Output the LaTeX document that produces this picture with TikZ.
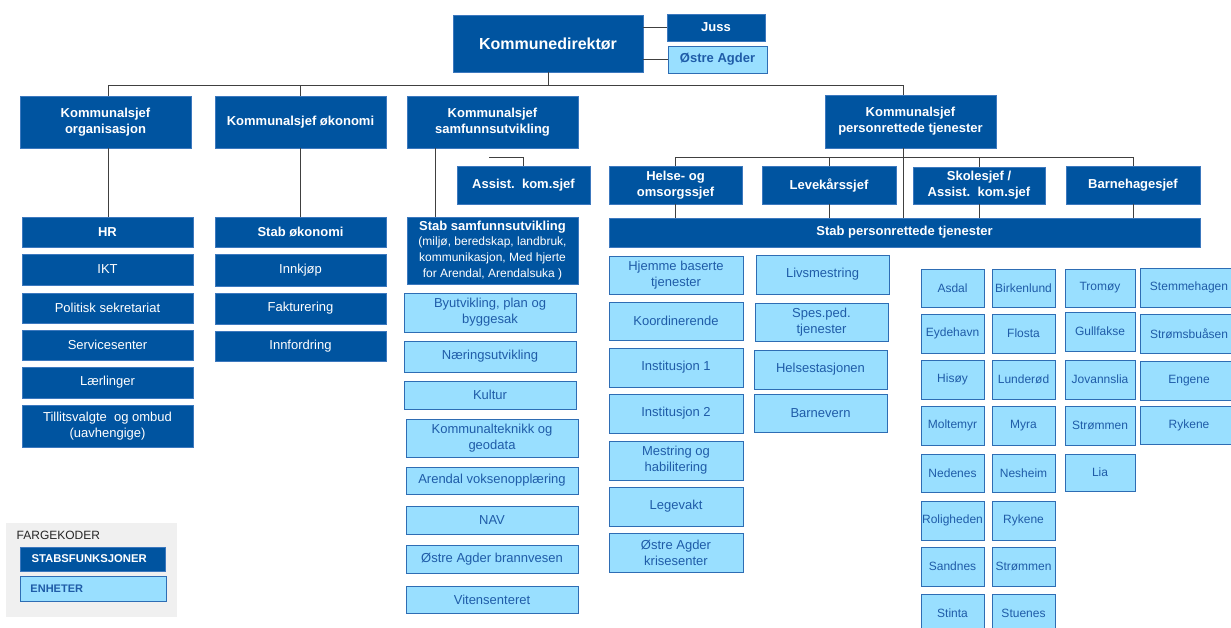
\documentclass[tikz,border=0pt]{standalone}
\usepackage{fontspec}
\setmainfont{Liberation Sans}
\definecolor{dkblue}{HTML}{0054A0}
\definecolor{dkedge}{HTML}{3C78BE}
\definecolor{ltblue}{HTML}{99DFFF}
\definecolor{ltedge}{HTML}{2E6DB4}
\definecolor{lttext}{HTML}{1F5CA8}
\definecolor{linec}{HTML}{404040}
\definecolor{legbg}{HTML}{F0F0F0}
\tikzset{
 box/.style={rectangle, inner sep=0pt, align=center},
 dkb/.style={box, fill=dkblue, draw=dkedge, line width=0.6pt, text=white, font=\bfseries\fontsize{13}{16}\selectfont},
 dkr/.style={dkb, font=\fontsize{13}{16}\selectfont},
 ltb/.style={box, fill=ltblue, draw=ltedge, line width=1pt, text=lttext, font=\fontsize{13}{16}\selectfont},
 lts/.style={ltb, font=\fontsize{12}{14}\selectfont},
 conn/.style={draw=linec, line width=1pt},
}
\newcommand\bx[7]{\node[#2, minimum width={(#5)-(#3)}, minimum height={(#6)-(#4)}] (#1) at ({((#3)+(#5))/2},{((#4)+(#6))/2}) {#7};}
\begin{document}
\begin{tikzpicture}[x=1pt,y=-1pt]
\useasboundingbox (0,0) rectangle (1231,627);
\clip (0,0) rectangle (1231,627);
% top
\bx{kd}{dkb,font=\bfseries\fontsize{16}{19}\selectfont}{453}{15}{643}{72}{Kommunedirektør}
\bx{juss}{dkb}{667}{14}{765}{41}{Juss}
\bx{ostre}{ltb,font=\bfseries\fontsize{13}{16}\selectfont}{668}{46}{767}{73}{Østre Agder}
% level 1
\bx{org}{dkb}{20}{96}{191}{148}{Kommunalsjef\\organisasjon}
\bx{oko}{dkb}{215}{96}{386}{148}{Kommunalsjef økonomi}
\bx{samf}{dkb}{407}{96}{578}{148}{Kommunalsjef\\samfunnsutvikling}
\bx{pers}{dkb}{825}{95}{996}{148}{Kommunalsjef\\personrettede tjenester}
% level 2
\bx{assist}{dkb}{457}{166}{590}{204}{Assist.\ \ kom.sjef}
\bx{helse}{dkb}{609}{166}{742}{204}{Helse- og\\omsorgssjef}
\bx{leve}{dkb}{762}{166}{896}{204}{Levekårssjef}
\bx{skole}{dkb}{913}{167}{1045}{204}{Skolesjef /\\Assist.\ \ kom.sjef}
\bx{barn}{dkb}{1066}{166}{1200}{204}{Barnehagesjef}
\bx{stabp}{dkb}{609}{218}{1200}{247}{Stab personrettede tjenester}
% organisasjon column
\bx{hr}{dkb}{22}{217}{193}{247}{HR}
\bx{ikt}{dkr}{22}{254}{193}{285}{IKT}
\bx{pol}{dkr}{22}{293}{193}{323}{Politisk sekretariat}
\bx{serv}{dkr}{22}{330}{193}{360}{Servicesenter}
\bx{laer}{dkr}{22}{367}{193}{398}{Lærlinger}
\bx{till}{dkr}{22}{405}{193}{447}{Tillitsvalgte\ \ og ombud\\(uavhengige)}
% okonomi column
\bx{stabok}{dkb}{215}{217}{386}{247}{Stab økonomi}
\bx{innk}{dkr}{215}{254}{386}{286}{Innkjøp}
\bx{fakt}{dkr}{215}{293}{386}{324}{Fakturering}
\bx{innf}{dkr}{215}{331}{386}{361}{Innfordring}
% samfunn column
\bx{stabs}{dkb}{407}{217}{578}{284}{{\bfseries\fontsize{13}{16}\selectfont Stab samfunnsutvikling}\\[-1pt]{\mdseries\fontsize{12}{14}\selectfont (miljø, beredskap, landbruk,}\\{\mdseries\fontsize{12}{14}\selectfont kommunikasjon, Med hjerte}\\{\mdseries\fontsize{12}{14}\selectfont for Arendal, Arendalsuka )}}
\bx{byut}{ltb}{404}{293}{576}{332}{Byutvikling, plan og\\byggesak}
\bx{naer}{ltb}{404}{341}{576}{372}{Næringsutvikling}
\bx{kult}{ltb}{404}{381}{576}{409}{Kultur}
\bx{komt}{ltb}{406}{419}{578}{457}{Kommunalteknikk og\\geodata}
\bx{voks}{ltb}{406}{467}{578}{494}{Arendal voksenopplæring}
\bx{nav}{ltb}{406}{506}{578}{534}{NAV}
\bx{brann}{ltb}{406}{545}{578}{573}{Østre Agder brannvesen}
\bx{viten}{ltb}{406}{586}{578}{613}{Vitensenteret}
% helse column
\bx{hjem}{ltb}{609}{256}{743}{294}{Hjemme baserte\\tjenester}
\bx{koor}{ltb}{609}{302}{743}{340}{Koordinerende}
\bx{inst1}{ltb}{609}{348}{743}{387}{Institusjon 1}
\bx{inst2}{ltb}{609}{394}{743}{433}{Institusjon 2}
\bx{mest}{ltb}{609}{441}{743}{480}{Mestring og\\habilitering}
\bx{lege}{ltb}{609}{487}{743}{526}{Legevakt}
\bx{krise}{ltb}{609}{533}{743}{572}{Østre Agder\\krisesenter}
% levekaar column
\bx{livs}{ltb}{756}{255}{889}{294}{Livsmestring}
\bx{spes}{ltb}{755}{303}{888}{341}{Spes.ped.\\tjenester}
\bx{hels}{ltb}{754}{350}{887}{389}{Helsestasjonen}
\bx{barnv}{ltb}{754}{394}{887}{432}{Barnevern}
% schools
\bx{s11}{lts}{921}{269}{984}{307}{Asdal}
\bx{s12}{lts}{921}{314}{984}{353}{Eydehavn}
\bx{s13}{lts}{921}{360}{984}{399}{Hisøy}
\bx{s14}{lts}{921}{406}{984}{445}{Moltemyr}
\bx{s15}{lts}{921}{454}{984}{492}{Nedenes}
\bx{s16}{lts}{921}{501}{984}{540}{Roligheden}
\bx{s17}{lts}{921}{547}{984}{586}{Sandnes}
\bx{s18}{lts}{921}{594}{984}{633}{Stinta}
\bx{s21}{lts}{992}{269}{1055}{307}{Birkenlund}
\bx{s22}{lts}{992}{314}{1055}{353}{Flosta}
\bx{s23}{lts}{992}{360}{1055}{399}{Lunderød}
\bx{s24}{lts}{992}{406}{1055}{445}{Myra}
\bx{s25}{lts}{992}{454}{1055}{492}{Nesheim}
\bx{s26}{lts}{992}{501}{1055}{540}{Rykene}
\bx{s27}{lts}{992}{547}{1055}{586}{Strømmen}
\bx{s28}{lts}{992}{594}{1055}{633}{Stuenes}
% kindergartens
\bx{b11}{lts}{1065}{269}{1135}{307}{Tromøy}
\bx{b12}{lts}{1065}{312}{1135}{351}{Gullfakse}
\bx{b13}{lts}{1065}{360}{1135}{399}{Jovannslia}
\bx{b14}{lts}{1065}{406}{1135}{445}{Strømmen}
\bx{b15}{lts}{1065}{454}{1135}{491}{Lia}
\bx{b21}{lts}{1140}{268}{1238}{307}{Stemmehagen}
\bx{b22}{lts}{1140}{314}{1238}{353}{Strømsbuåsen}
\bx{b23}{lts}{1140}{361}{1238}{400}{Engene}
\bx{b24}{lts}{1140}{406}{1238}{444}{Rykene}
% connectors
\coordinate (busL) at (108,85);
\coordinate (busR) at (903,85);
\draw[conn] (busL) -- (busR);
\draw[conn] (kd.south) -- (kd.south |- busL);
\draw[conn] (busL) -- (busL |- org.north);
\draw[conn] (org.south -| busL) -- (hr.north -| busL);
\draw[conn] (oko.north) -- (oko.north |- busL);
\draw[conn] (oko.south) -- (stabok.north);
\draw[conn] (busR) -- (busR |- pers.north);
\draw[conn] (pers.south -| busR) -- (stabp.north -| busR);
\draw[conn] (kd.east |- juss.west) -- (juss.west);
\draw[conn] (kd.east |- ostre.west) -- (ostre.west);
\coordinate (sv) at (435,0);
\draw[conn] (samf.south -| sv) -- (stabs.north -| sv);
\coordinate (asst0) at (489,157.7);
\draw[conn] (asst0) -| (assist.north);
\coordinate (bus2) at (0,157.3);
\draw[conn] (helse.north |- bus2) -- (barn.north |- bus2);
\foreach \n in {helse,leve,skole,barn}{
  \draw[conn] (\n.north |- bus2) -- (\n.north);
  \draw[conn] (\n.south) -- (\n.south |- stabp.north);
}
% legend
\bx{leg}{box,fill=legbg}{6}{523}{177}{617}{}
\node[anchor=west, inner sep=0pt, font=\fontsize{12}{14}\selectfont, text=black!85] (legt) at (16.5,535) {FARGEKODER};
\bx{leg1}{dkb,font=\bfseries\fontsize{11.3}{13}\selectfont,text width=122pt,align=left,inner xsep=11.5pt}{20}{547}{165}{571}{STABSFUNKSJONER}
\bx{leg2}{ltb,font=\bfseries\fontsize{11}{13}\selectfont,text width=125pt,align=left,inner xsep=10.5pt}{20}{576}{166}{601}{ENHETER}
\end{tikzpicture}
\end{document}
